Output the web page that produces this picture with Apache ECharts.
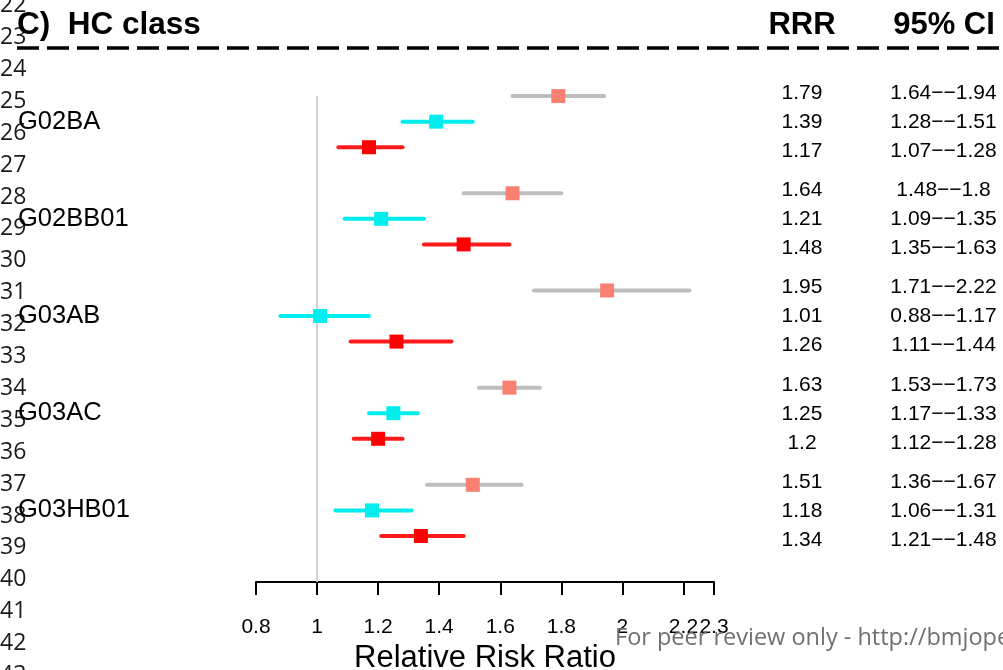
<!DOCTYPE html>
<html>
<head>
<meta charset="utf-8">
<script src="https://cdn.jsdelivr.net/npm/echarts@6/dist/echarts.min.js"></script>
<style>
  html, body { margin: 0; padding: 0; background: #ffffff; }
  #chart { width: 1003px; height: 670px; }
</style>
</head>
<body>
<div id="chart"></div>
<script>
// ATC classes, one block of three estimates each
const groups = ['G02BA', 'G02BB01', 'G03AB', 'G03AC', 'G03HB01'];

// first estimate of each block (grey interval, salmon box)
const rrrA = [1.79, 1.64, 1.95, 1.63, 1.51];
const loA  = [1.64, 1.48, 1.71, 1.53, 1.36];
const hiA  = [1.94, 1.8,  2.22, 1.73, 1.67];

// second estimate (cyan)
const rrrB = [1.39, 1.21, 1.01, 1.25, 1.18];
const loB  = [1.28, 1.09, 0.88, 1.17, 1.06];
const hiB  = [1.51, 1.35, 1.17, 1.33, 1.31];

// third estimate (red)
const rrrC = [1.17, 1.48, 1.26, 1.2,  1.34];
const loC  = [1.07, 1.35, 1.11, 1.12, 1.21];
const hiC  = [1.28, 1.63, 1.44, 1.28, 1.48];

const xTicks = [0.8, 1, 1.2, 1.4, 1.6, 1.8, 2, 2.2, 2.3];
const lineNumbers = [22, 23, 24, 25, 26, 27, 28, 29, 30, 31, 32, 33, 34, 35, 36, 37, 38, 39, 40, 41, 42, 43];

const GROUP_STEP = 3.8;            // vertical distance between blocks, in row units
const rowPos = (g, i) => g * GROUP_STEP + i;

const sets = [
  { rrr: rrrA, lo: loA, hi: hiA, line: '#bebebe', box: '#fa8072' },
  { rrr: rrrB, lo: loB, hi: hiB, line: '#00eded', box: '#00eded' },
  { rrr: rrrC, lo: loC, hi: hiC, line: '#ff1a1a', box: '#ff0000' }
];

const SANS = '"Liberation Sans", Arial, Helvetica, sans-serif';
const DASH = '\u2212\u2212';

function ciRenderer(lineColor, boxColor) {
  return function (params, api) {
    const y = api.value(3);
    const a = api.coord([api.value(0), y]);
    const b = api.coord([api.value(1), y]);
    const c = api.coord([api.value(2), y]);
    return {
      type: 'group',
      children: [
        { type: 'line', shape: { x1: a[0], y1: a[1], x2: b[0], y2: b[1] },
          style: { stroke: lineColor, lineWidth: 4, lineCap: 'round' } },
        { type: 'rect', shape: { x: c[0] - 7, y: c[1] - 7, width: 14, height: 14 },
          style: { fill: boxColor } }
      ]
    };
  };
}

const ciSeries = sets.map((s, i) => ({
  type: 'custom',
  renderItem: ciRenderer(s.line, s.box),
  encode: { x: [0, 1, 2], y: 3 },
  data: groups.map((g, gi) => [s.lo[gi], s.hi[gi], s.rrr[gi], rowPos(gi, i)]),
  z: 3,
  silent: true
}));

// right-hand table: estimate and interval, three lines per block centred on the middle row
const tableData = [];
groups.forEach((g, gi) => {
  sets.forEach((s, i) => {
    tableData.push([0.8, rowPos(gi, 1), i, String(s.rrr[gi]), String(s.lo[gi]) + DASH + String(s.hi[gi])]);
  });
});

const tableSeries = {
  type: 'custom',
  encode: { x: 0, y: 1 },
  data: tableData,
  clip: false,
  silent: true,
  renderItem: function (params, api) {
    const p = api.coord([api.value(0), api.value(1)]);
    const row = tableData[params.dataIndex];
    const y = p[1] + 0.5 + (row[2] - 1) * 29;
    const style = { fill: '#000', font: '21px ' + SANS, align: 'center', verticalAlign: 'middle' };
    return {
      type: 'group',
      children: [
        { type: 'text', x: 802, y: y, style: Object.assign({ text: row[3] }, style) },
        { type: 'text', x: 943.5, y: y, style: Object.assign({ text: row[4] }, style) }
      ]
    };
  }
};

const groupLabelSeries = {
  type: 'custom',
  encode: { x: 0, y: 1 },
  data: groups.map((g, gi) => [0.8, rowPos(gi, 1), g]),
  clip: false,
  silent: true,
  renderItem: function (params, api) {
    const p = api.coord([api.value(0), api.value(1)]);
    return {
      type: 'text', x: 18, y: p[1],
      style: { text: groups[params.dataIndex], fill: '#000', font: '25.5px ' + SANS,
               align: 'left', verticalAlign: 'middle' }
    };
  }
};

// reference line at a ratio of 1
const refSeries = {
  type: 'line',
  data: [[1, 0], [1, 19]],
  symbol: 'none',
  lineStyle: { color: '#d3d3d3', width: 2 },
  silent: true,
  z: 1
};

const graphics = [];
lineNumbers.forEach((n, k) => {
  graphics.push({
    type: 'text', x: 0, y: 5.6 + k * 31.9, z: 0,
    style: { text: String(n), fill: '#1a1a1a', font: '23px "Open Sans", sans-serif', verticalAlign: 'middle' }
  });
});
graphics.push(
  { type: 'text', x: 17, y: 25, z: 5,
    style: { text: 'C)  HC class', fill: '#000', font: 'bold 31.5px ' + SANS, verticalAlign: 'middle' } },
  { type: 'text', x: 802, y: 25, z: 5,
    style: { text: 'RRR', fill: '#000', font: 'bold 31px ' + SANS, align: 'center', verticalAlign: 'middle' } },
  { type: 'text', x: 944, y: 25, z: 5,
    style: { text: '95% CI', fill: '#000', font: 'bold 31px ' + SANS, align: 'center', verticalAlign: 'middle' } },
  { type: 'line', z: 5, shape: { x1: 17, y1: 48, x2: 1003, y2: 48 },
    style: { stroke: '#000', lineWidth: 3.5, lineDash: [22, 8] } },
  { type: 'text', x: 615, y: 638, z: 10,
    style: { text: 'For peer review only - http://bmjopen.bmj.com/site/about/guidelines.xhtml',
             fill: '#707070', font: '23.5px "Open Sans", sans-serif', verticalAlign: 'middle' } }
);

const chart = echarts.init(document.getElementById('chart'), null, { renderer: 'canvas' });
chart.setOption({
  animation: false,
  backgroundColor: '#ffffff',
  grid: { left: 256, right: 289, top: 70.5, bottom: 88, containLabel: false, outerBoundsMode: 'none' },
  xAxis: {
    type: 'value',
    min: 0.8,
    max: 2.3,
    interval: 0.1,
    name: 'Relative Risk Ratio',
    nameLocation: 'middle',
    nameGap: 52,
    nameTextStyle: { fontFamily: SANS, fontSize: 31, color: '#000' },
    axisLine: { show: true, onZero: false, lineStyle: { color: '#000', width: 2 } },
    axisTick: { show: true, length: 13, inside: false, customValues: xTicks,
                lineStyle: { color: '#000', width: 2 } },
    axisLabel: { show: true, margin: 35, customValues: xTicks, fontFamily: SANS, fontSize: 21, color: '#000',
                 hideOverlap: false,
                 formatter: v => String(Math.round(v * 10) / 10) },
    splitLine: { show: false }
  },
  yAxis: {
    type: 'value',
    min: -1,
    max: 19,
    inverse: true,
    show: false,
    splitLine: { show: false }
  },
  graphic: graphics,
  series: [refSeries].concat(ciSeries, [tableSeries, groupLabelSeries])
});
</script>
</body>
</html>
